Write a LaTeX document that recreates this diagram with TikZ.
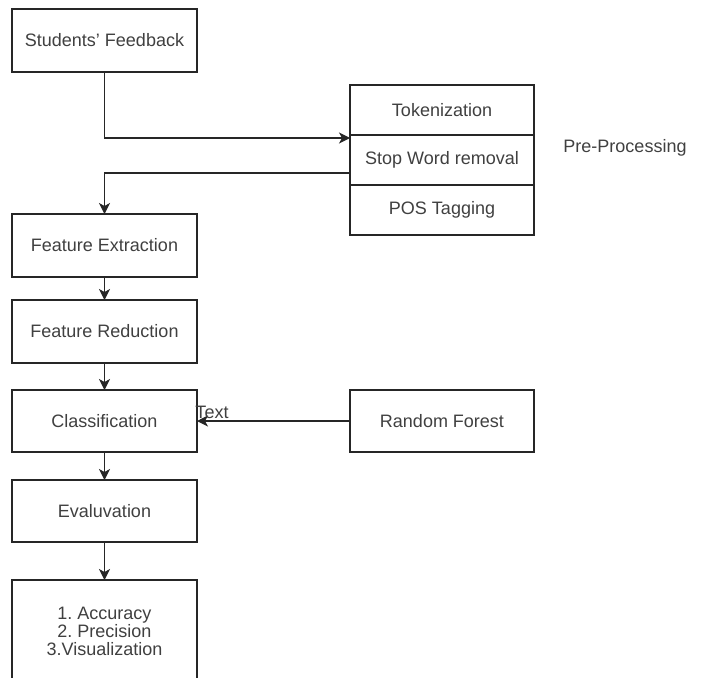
\documentclass[tikz,border=0pt]{standalone}
\usepackage{fontspec}
\setmainfont{Liberation Sans}
\usetikzlibrary{arrows.meta,calc}
\frenchspacing
\begin{document}
\begin{tikzpicture}[x=1pt,y=-1pt,
  box/.style={draw=black!85, line width=1.3pt, fill=white, inner sep=0pt, outer sep=0pt,
    minimum width=185pt, minimum height=63pt, text=black!75,
    font=\fontsize{18}{18}\selectfont, align=center},
  sub/.style={box, minimum width=184pt, minimum height=50pt},
  lbl/.style={inner sep=0pt, text=black!75, font=\fontsize{18}{18}\selectfont},
  arr/.style={draw=black!85, line width=1.3pt, -{Stealth[length=11pt,width=11pt,inset=3pt]}}]
\useasboundingbox (0,0) rectangle (703,677);
\clip (0,0) rectangle (703,677);
\node[box] (sf) at (104.5,40.5) {Students' Feedback};
\node[sub] (tok) at (442,110) {Tokenization};
\node[sub] (swr) at (442,160) {Stop Word removal};
\node[sub] (pos) at (442,210) {POS Tagging};
\node[lbl] (pplabel) at (625,148) {Pre-Processing};
\node[box] (fe) at (104.5,245.5) {Feature Extraction};
\node[box] (fr) at (104.5,331.5) {Feature Reduction};
\node[box, minimum height=62pt] (cl) at (104.5,421) {Classification};
\node[box, minimum width=184pt, minimum height=62pt] (rf) at (442,421) {Random Forest};
\node[box, minimum height=62pt] (ev) at (104.5,511) {Evaluvation};
\node[box, minimum height=102pt] (res) at (104.5,631) {\frenchspacing 1. Accuracy\\\frenchspacing 2. Precision\\3.Visualization};
\draw[arr] (sf.south) |- ([yshift=-3pt]swr.north west);
\draw[arr] ([yshift=-13pt]swr.west) -| (fe.north);
\draw[arr] (fe.south) -- (fr.north);
\draw[arr] (fr.south) -- (cl.north);
\draw[arr] (rf.west) -- (cl.east);
\draw[arr] (cl.south) -- (ev.north);
\draw[arr] (ev.south) -- (res.north);
\node[lbl] (txt) at (212,412) {Text};
\end{tikzpicture}
\end{document}
